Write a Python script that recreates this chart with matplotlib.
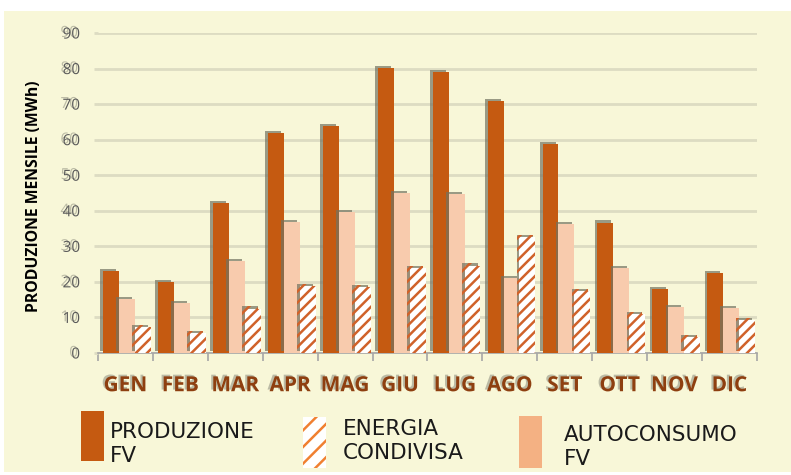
import numpy as np
import matplotlib
matplotlib.use("Agg")
import matplotlib.pyplot as plt
import matplotlib.patheffects as pe
from matplotlib.patches import Rectangle

months = ["GEN", "FEB", "MAR", "APR", "MAG", "GIU", "LUG", "AGO", "SET", "OTT", "NOV", "DIC"]
produzione_fv = [23.0, 20.0, 42.1, 61.8, 63.9, 80.1, 79.0, 70.8, 58.7, 36.7, 17.9, 22.4]
autoconsumo_fv = [15.2, 14.0, 25.8, 36.9, 39.7, 45.1, 44.7, 21.2, 36.2, 24.0, 12.9, 12.7]
energia_condivisa = [7.4, 5.6, 12.5, 18.8, 18.5, 24.0, 24.6, 32.5, 17.5, 11.0, 4.6, 9.3]
y_ticks = [0, 10, 20, 30, 40, 50, 60, 70, 80, 90]

legend_labels = ["PRODUZIONE\nFV", "ENERGIA\nCONDIVISA", "AUTOCONSUMO\nFV"]

C_PROD = "#C55A11"
C_AUTO = "#F8CBAD"
C_AUTO_LEG = "#F4B183"
C_HATCH = "#D0622A"
C_BG = "#F8F7D8"
C_GRID = "#DDDCC2"

plt.rcParams["hatch.linewidth"] = 1.8

fig = plt.figure(figsize=(7.91, 4.75), dpi=100)
fig.patch.set_facecolor("white")
# cream panel behind everything
fig.add_artist(Rectangle((4 / 791, 3 / 475), 787 / 791, 461 / 475,
                         transform=fig.transFigure, facecolor=C_BG,
                         edgecolor="none", zorder=-10))

ax = fig.add_axes([98 / 791, 122 / 475, 659 / 791, 320 / 475])
ax.set_facecolor("none")

x = np.arange(len(months))
w = 0.29
off = 0.03
shadow = [pe.SimplePatchShadow(offset=(-2, 1.5), shadow_rgbFace=(0.45, 0.45, 0.38), alpha=0.7),
          pe.Normal()]

ax.bar(x - w + off, produzione_fv, w, color=C_PROD, linewidth=0, zorder=3, path_effects=shadow)
ax.bar(x + off, autoconsumo_fv, w, color=C_AUTO, linewidth=0, zorder=3, path_effects=shadow)
ax.bar(x + w + off, energia_condivisa, w, facecolor="white", edgecolor=C_HATCH,
       hatch="///", linewidth=0, zorder=3, path_effects=shadow)

ax.set_xlim(-0.5, len(months) - 0.5)
ax.set_ylim(0, 90)
ax.set_yticks(y_ticks)
ax.yaxis.grid(True, color=C_GRID, linewidth=2, zorder=0)
ax.set_axisbelow(True)

for s in ["top", "right", "left"]:
    ax.spines[s].set_visible(False)
ax.spines["bottom"].set_color("#A6A6A6")
ax.spines["bottom"].set_linewidth(1.2)

txt_shadow = [pe.SimplePatchShadow(offset=(-1.5, 1.2), shadow_rgbFace=(0.5, 0.5, 0.45), alpha=0.5),
              pe.Normal()]

ax.tick_params(axis="y", length=3, color=C_GRID, width=2, pad=10,
               labelsize=11, labelcolor="#595959")
for t in ax.get_yticklabels():
    t.set_fontfamily("Open Sans")
    t.set_path_effects(txt_shadow)

ax.set_xticks(x)
ax.set_xticklabels(months)
ax.set_xticks(np.arange(-0.5, len(months)), minor=True)
ax.tick_params(axis="x", which="major", length=0, pad=16, labelsize=15, labelcolor="#8E3F10")
ax.tick_params(axis="x", which="minor", length=6, color="#A6A6A6", width=1.2)
for t in ax.get_xticklabels():
    t.set_fontfamily("Open Sans")
    t.set_fontweight("bold")
    t.set_path_effects(txt_shadow)

ax.set_ylabel("PRODUZIONE MENSILE (MWh)", fontsize=11.3, fontweight="bold",
              family="Open Sans", color="black")
ax.yaxis.set_label_coords(-0.085, 0.49)

# legend drawn by hand below the chart
leg_font = dict(fontsize=15.5, family="DejaVu Sans", color="#1A1A1A", va="center",
                linespacing=1.3)
lx = [81, 303, 519]
ly = [411, 417, 416]
lh = [50, 51, 52]
tx = [110, 343, 564]
ty = [444, 441, 447]
faces = [C_PROD, "white", C_AUTO_LEG]
hatches = [None, "//", None]
edges = ["none", "#F08030", "none"]
for i in range(3):
    fig.add_artist(Rectangle((lx[i] / 791, 1 - (ly[i] + lh[i]) / 475), 23 / 791, lh[i] / 475,
                             transform=fig.transFigure, facecolor=faces[i],
                             edgecolor=edges[i], hatch=hatches[i], linewidth=0))
    fig.text(tx[i] / 791, 1 - ty[i] / 475, legend_labels[i], **leg_font)

fig.savefig("out.png", dpi=100, facecolor=fig.get_facecolor())
